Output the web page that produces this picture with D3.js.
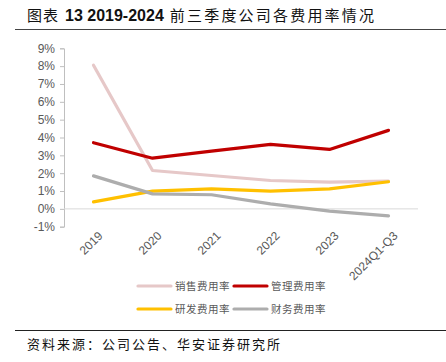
<!DOCTYPE html>
<html>
<head>
<meta charset="utf-8">
<script src="https://cdn.jsdelivr.net/npm/d3@7.9.0/dist/d3.min.js"></script>
<style>
  body { margin: 0; background: #fff; }
  svg { display: block; font-family: "Liberation Sans", Arial, "Noto Sans CJK SC", sans-serif; }
</style>
</head>
<body>
<svg width="446" height="362"></svg>
<script>
const years = ['2019', '2020', '2021', '2022', '2023', '2024Q1-Q3'];
const seriesNames = ['销售费用率', '管理费用率', '研发费用率', '财务费用率'];
const sales = [8.05, 2.15, 1.87, 1.59, 1.5, 1.55];
const admin = [3.71, 2.84, 3.24, 3.61, 3.33, 4.4];
const rnd = [0.39, 0.99, 1.12, 0.99, 1.12, 1.52];
const finance = [1.85, 0.84, 0.79, 0.28, -0.13, -0.39];
const yTicks = [-1, 0, 1, 2, 3, 4, 5, 6, 7, 8, 9];

const colors = ['#E6C8C8', '#C00000', '#FFC000', '#ADADAD'];
const allSeries = [sales, admin, rnd, finance];
const cjk = '"Noto Sans CJK SC", sans-serif';

let svg = d3.select('svg');

// title
let title = svg.append('text')
  .attr('x', 27).attr('y', 21)
  .attr('font-size', 15).attr('fill', '#111');
title.append('tspan').style('font-family', cjk).attr('letter-spacing', 1).text('图表');
title.append('tspan').attr('dx', 6).attr('font-weight', 'bold').attr('font-size', 16)
  .style('font-family', '"Liberation Sans", Arial, sans-serif').text('13 2019-2024');
title.append('tspan').attr('dx', 6).style('font-family', cjk).attr('letter-spacing', 2.2)
  .text('前三季度公司各费用率情况');
svg.append('line')
  .attr('x1', 15).attr('x2', 446).attr('y1', 29.5).attr('y2', 29.5)
  .attr('stroke', '#444').attr('stroke-width', 1);

let x = d3.scaleBand().domain(years).range([64, 418]);
let y = d3.scaleLinear().domain([-1, 9]).range([226.7, 48.3]);

// y axis
let yAxis = svg.append('g')
  .attr('transform', 'translate(64,0)')
  .call(d3.axisLeft(y).tickValues(yTicks).tickSize(4).tickFormat(d => d + '%'));
yAxis.select('.domain').attr('stroke', '#BFBFBF');
yAxis.selectAll('.tick line').attr('stroke', '#BFBFBF');
yAxis.selectAll('.tick text')
  .attr('font-size', 12).attr('fill', '#595959').attr('x', -9);

// zero line
svg.append('line')
  .attr('x1', 64).attr('x2', 418)
  .attr('y1', y(0)).attr('y2', y(0))
  .attr('stroke', '#D9D9D9').attr('stroke-width', 1);

// x labels
svg.append('g').selectAll('text')
  .data(years)
  .join('text')
  .attr('transform', d => `translate(${x(d) + x.bandwidth() / 2 + 4},${y(-1) + 4}) rotate(-45)`)
  .attr('text-anchor', 'end')
  .attr('dy', '0.7em')
  .attr('font-size', 12)
  .attr('fill', '#595959')
  .text(d => d);

// lines
let line = d3.line()
  .x((d, i) => x(years[i]) + x.bandwidth() / 2)
  .y(d => y(d));

allSeries.forEach((s, idx) => {
  svg.append('path')
    .datum(s)
    .attr('d', line)
    .attr('fill', 'none')
    .attr('stroke', colors[idx])
    .attr('stroke-width', 3.2)
    .attr('stroke-linejoin', 'round')
    .attr('stroke-linecap', 'round');
});

// legend
let legendPos = [[138, 286], [234, 286], [138, 309], [234, 309]];
seriesNames.forEach((name, idx) => {
  let [lx, ly] = legendPos[idx];
  svg.append('line')
    .attr('x1', lx).attr('x2', lx + 33)
    .attr('y1', ly).attr('y2', ly)
    .attr('stroke', colors[idx]).attr('stroke-width', 3.2)
    .attr('stroke-linecap', 'round');
  svg.append('text')
    .attr('x', lx + 37).attr('y', ly + 4)
    .attr('font-size', 10.5).attr('fill', '#595959')
    .attr('letter-spacing', 0.5)
    .style('font-family', cjk)
    .text(name);
});

// source
svg.append('line')
  .attr('x1', 15).attr('x2', 446).attr('y1', 330.5).attr('y2', 330.5)
  .attr('stroke', '#222').attr('stroke-width', 1);
svg.append('text')
  .attr('x', 27).attr('y', 349)
  .attr('font-size', 13).attr('fill', '#111')
  .attr('letter-spacing', 2)
  .style('font-family', cjk)
  .text('资料来源：公司公告、华安证券研究所');
</script>
</body>
</html>
